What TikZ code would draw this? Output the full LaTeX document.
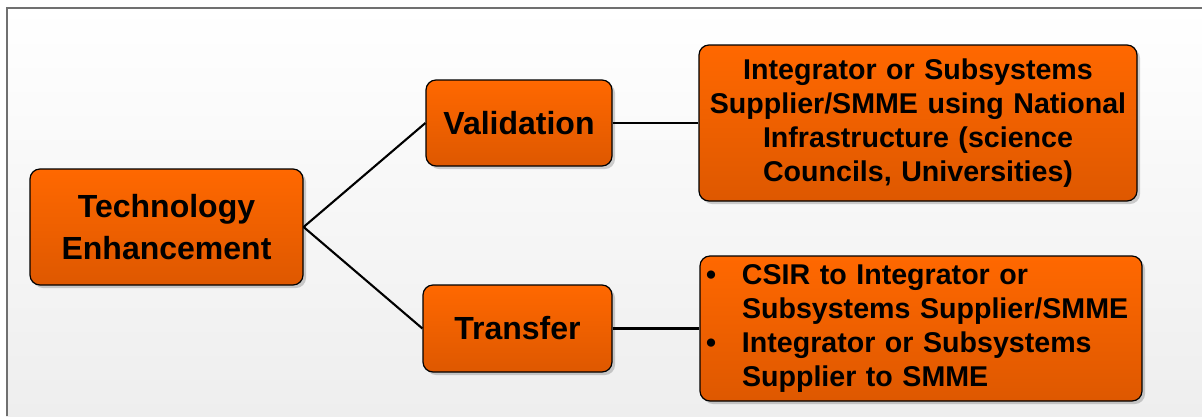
\documentclass[tikz,border=0pt]{standalone}
\usepackage{fontspec}
\setmainfont{Liberation Sans}
\usetikzlibrary{shadows}
\definecolor{boxtop}{RGB}{255,104,0}
\definecolor{boxbot}{RGB}{222,88,0}
\definecolor{framegray}{RGB}{112,112,112}
\definecolor{bgbot}{RGB}{238,238,238}
\tikzset{
  boxnode/.style={draw=black, line width=1.2pt, rounded corners=10pt,
    top color=boxtop, bottom color=boxbot, inner sep=0pt,
    drop shadow={shadow xshift=3pt, shadow yshift=-3pt, fill=black, opacity=0.18},
    font=\bfseries},
  bigtext/.style={font=\bfseries\fontsize{32}{41.7}\selectfont, align=center},
  smalltext/.style={font=\bfseries\fontsize{28.6}{34.2}\selectfont},
  conn/.style={line width=2.1pt, black}
}
\begin{document}
\begin{tikzpicture}[x=1pt,y=-1pt]
\useasboundingbox (0,0) rectangle (1202,416);
\fill[white] (0,0) rectangle (1202,416);
\shade[top color=white, bottom color=bgbot] (6,7) rectangle (1202,416);
\draw[framegray, line width=2pt] (6.5,416) -- (6.5,7.5) -- (1202,7.5);

\node[boxnode, bigtext, minimum width=273pt, minimum height=116pt] (tech) at (166.5,227)
  {Technology\\Enhancement};
\node[boxnode, bigtext, minimum width=186pt, minimum height=86pt] (val) at (519,123)
  {Validation};
\node[boxnode, bigtext, minimum width=189pt, minimum height=87pt] (tra) at (517.5,328.5)
  {Transfer};
\node[boxnode, smalltext, align=center, text width=430pt, inner xsep=4pt,
  minimum width=438pt, minimum height=156pt] (integ) at (918,123)
  {Integrator or Subsystems\\Supplier/SMME using National\\Infrastructure (science\\Councils, Universities)};
\node[boxnode, smalltext, align=left, text width=430pt, inner xsep=6pt,
  minimum width=442pt, minimum height=145pt] (csir) at (921,328.5)
  {\makebox[36pt][l]{\textbullet}CSIR to Integrator or\\
   \hspace*{36pt}Subsystems Supplier/SMME\\
   \makebox[36pt][l]{\textbullet}Integrator or Subsystems\\
   \hspace*{36pt}Supplier to SMME};

\draw[conn] (tech.east) -- (val.west);
\draw[conn] (tech.east) -- (tra.west);
\draw[conn] (val.east) -- (integ.west);
\draw[conn] (tra.east) -- (csir.west);
\end{tikzpicture}
\end{document}
